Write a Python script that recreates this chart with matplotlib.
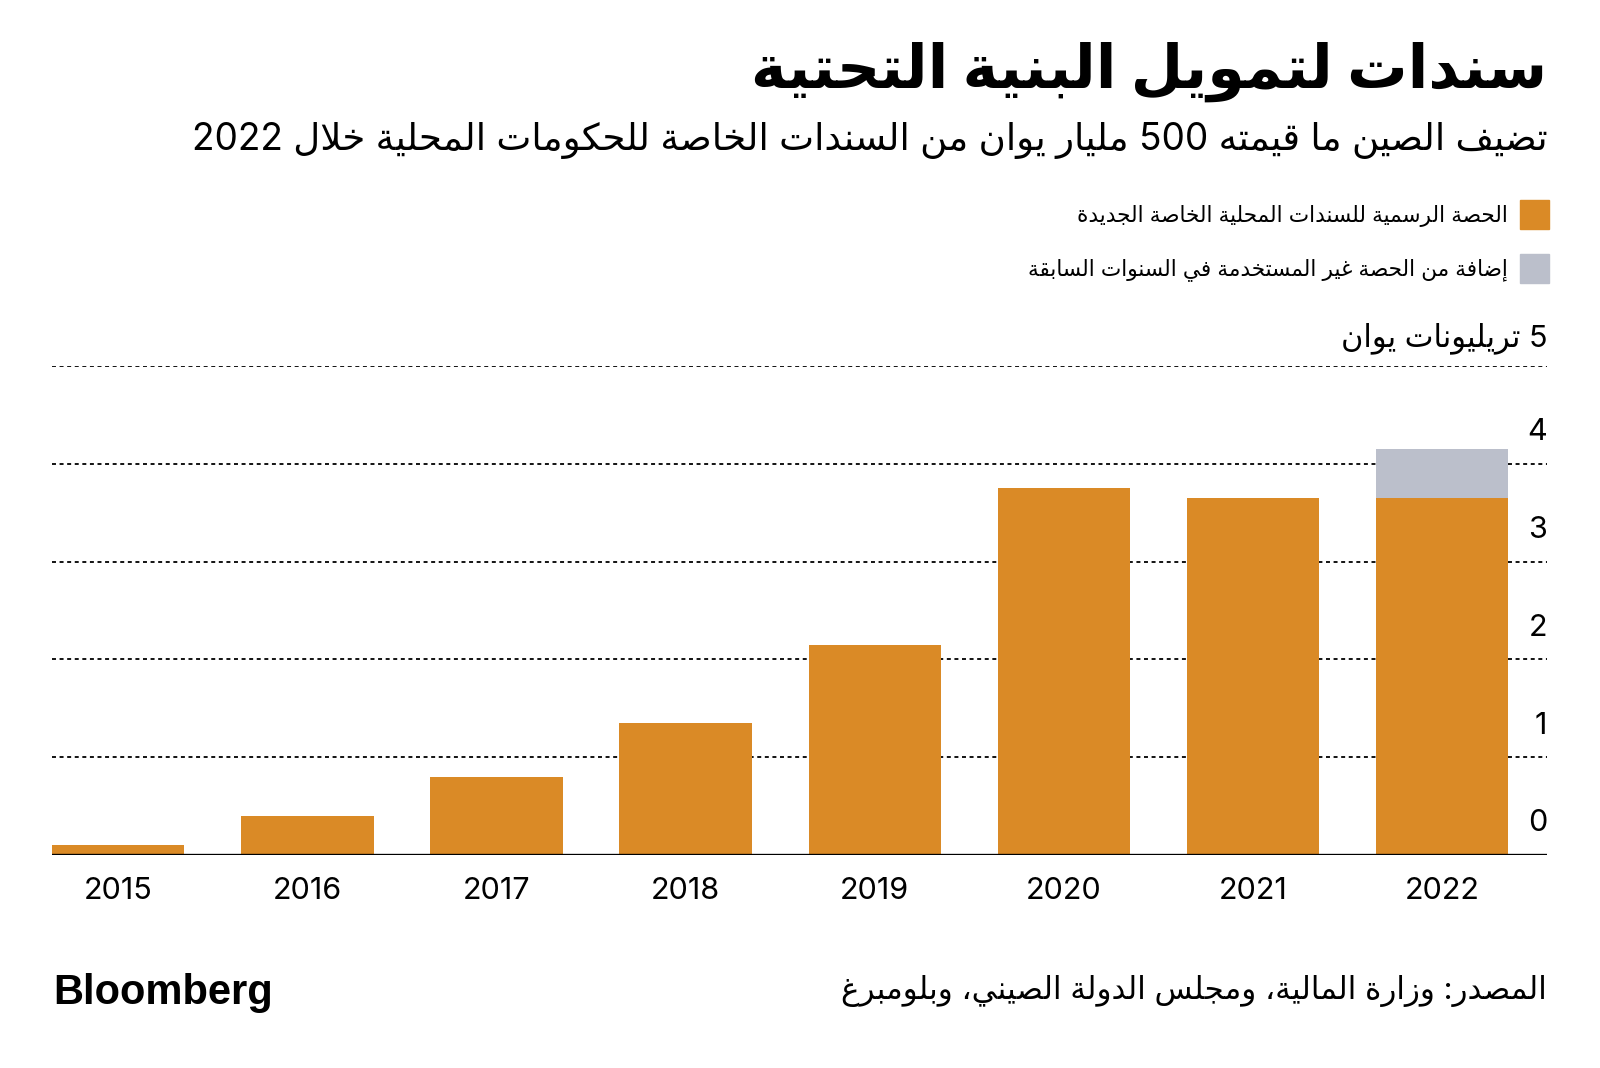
import re
import matplotlib
matplotlib.use('Agg')
import matplotlib.pyplot as plt
from matplotlib.patches import Rectangle

# Data: special local government bond quota, trillion yuan
years = ['2015', '2016', '2017', '2018', '2019', '2020', '2021', '2022']
quota = [0.1, 0.4, 0.8, 1.35, 2.15, 3.75, 3.65, 3.65]
extra = [0, 0, 0, 0, 0, 0, 0, 0.5]
y_ticks = [0, 1, 2, 3, 4]

title = 'سندات لتمويل البنية التحتية'
subtitle = 'تضيف الصين ما قيمته 500 مليار يوان من السندات الخاصة للحكومات المحلية خلال 2022'
legend_labels = ['الحصة الرسمية للسندات المحلية الخاصة الجديدة',
                 'إضافة من الحصة غير المستخدمة في السنوات السابقة']
unit_label = '5 تريليونات يوان'
source = 'المصدر: وزارة المالية، ومجلس الدولة الصيني، وبلومبرغ'

ORANGE = '#DA8A26'
GREY = '#BBBFCB'


# --- minimal Arabic shaping (matplotlib has no shaping / bidi) ---
_letters = [('ء', 0xFE80, 1), ('آ', 0xFE81, 2), ('أ', 0xFE83, 2), ('ؤ', 0xFE85, 2),
            ('إ', 0xFE87, 2), ('ئ', 0xFE89, 4), ('ا', 0xFE8D, 2), ('ب', 0xFE8F, 4),
            ('ة', 0xFE93, 2), ('ت', 0xFE95, 4), ('ث', 0xFE99, 4), ('ج', 0xFE9D, 4),
            ('ح', 0xFEA1, 4), ('خ', 0xFEA5, 4), ('د', 0xFEA9, 2), ('ذ', 0xFEAB, 2),
            ('ر', 0xFEAD, 2), ('ز', 0xFEAF, 2), ('س', 0xFEB1, 4), ('ش', 0xFEB5, 4),
            ('ص', 0xFEB9, 4), ('ض', 0xFEBD, 4), ('ط', 0xFEC1, 4), ('ظ', 0xFEC5, 4),
            ('ع', 0xFEC9, 4), ('غ', 0xFECD, 4), ('ف', 0xFED1, 4), ('ق', 0xFED5, 4),
            ('ك', 0xFED9, 4), ('ل', 0xFEDD, 4), ('م', 0xFEE1, 4), ('ن', 0xFEE5, 4),
            ('ه', 0xFEE9, 4), ('و', 0xFEED, 2), ('ى', 0xFEEF, 2), ('ي', 0xFEF1, 4)]
FORMS = {c: (base, n) for c, base, n in _letters}
LAM_ALEF = {'آ': 0xFEF5, 'أ': 0xFEF7, 'إ': 0xFEF9, 'ا': 0xFEFB}


def _joins_next(u):
    return isinstance(u, str) and u in FORMS and FORMS[u][1] == 4


def _joins_prev(u):
    if isinstance(u, tuple):
        return True
    return u in FORMS and FORMS[u][1] >= 2


def ar(text):
    units = []
    i = 0
    while i < len(text):
        c = text[i]
        if c == 'ل' and i + 1 < len(text) and text[i + 1] in LAM_ALEF:
            units.append(('LA', text[i + 1]))
            i += 2
        else:
            units.append(c)
            i += 1
    out = []
    for k, u in enumerate(units):
        prev = k > 0 and _joins_next(units[k - 1]) and _joins_prev(u)
        nxt = k < len(units) - 1 and _joins_next(u) and _joins_prev(units[k + 1])
        if isinstance(u, tuple):
            out.append(chr(LAM_ALEF[u[1]] + (1 if prev else 0)))
        elif u in FORMS:
            base, n = FORMS[u]
            if n == 4 and prev and nxt:
                out.append(chr(base + 3))
            elif n == 4 and nxt:
                out.append(chr(base + 2))
            elif n >= 2 and prev:
                out.append(chr(base + 1))
            else:
                out.append(chr(base))
        else:
            out.append(u)
    vis = ''.join(out)[::-1]
    # keep numbers left-to-right
    return re.sub(r'[0-9A-Za-z.]+', lambda m: m.group(0)[::-1], vis)


FONT = ['Inter', 'DejaVu Sans']
plt.rcParams['font.family'] = FONT

fig = plt.figure(figsize=(16, 10.68), dpi=100)
ax = fig.add_axes([0.0325, 0.1994, 0.9344, 0.4579])

x = list(range(len(years)))
ax.bar(x, quota, width=0.7, color=ORANGE, zorder=3)
ax.bar(x, extra, width=0.7, bottom=quota, color=GREY, zorder=3)

ax.set_xlim(-0.35, 7.555)
ax.set_ylim(0, 5)

for v in y_ticks[1:] + [5]:
    ax.axhline(v, color='black', lw=1.3, ls=(0, (2.2, 2.0)), zorder=1)
ax.axhline(0, color='black', lw=2.4, zorder=4)

for v in y_ticks:
    ax.annotate(str(v), xy=(1, v), xycoords=ax.get_yaxis_transform(),
                xytext=(0, 17), textcoords='offset points',
                ha='right', va='baseline', fontsize=22)
ax.annotate(ar(unit_label), xy=(1, 5), xycoords=ax.get_yaxis_transform(),
            xytext=(0, 14), textcoords='offset points',
            ha='right', va='baseline', fontsize=22)

ax.set_xticks(x, years)
ax.tick_params(axis='x', length=0, pad=16, labelsize=22)
ax.set_yticks([])
for s in ax.spines.values():
    s.set_visible(False)

fig.text(0.967, 0.933, ar(title), ha='right', va='center',
         fontsize=43.5, fontweight='bold')
fig.text(0.967, 0.868, ar(subtitle), ha='right', va='center', fontsize=26.7)

# legend (squares on the right, right-to-left)
for lab, col, ytop in zip(legend_labels, [ORANGE, GREY], [200, 254]):
    fig.add_artist(Rectangle((1520 / 1600, 1 - (ytop + 29) / 1068), 29 / 1600, 29 / 1068,
                             transform=fig.transFigure, color=col))
    fig.text(1508 / 1600, 1 - (ytop + 16) / 1068, ar(lab), ha='right', va='center',
             fontsize=15.6)

fig.text(0.967, 0.072, ar(source), ha='right', va='center', fontsize=22.3)
fig.text(0.033, 0.070, 'Bloomberg', ha='left', va='center', fontsize=30,
         fontweight='bold', family=['Liberation Sans', 'DejaVu Sans'])

fig.savefig('out.png', dpi=100, facecolor='white')
